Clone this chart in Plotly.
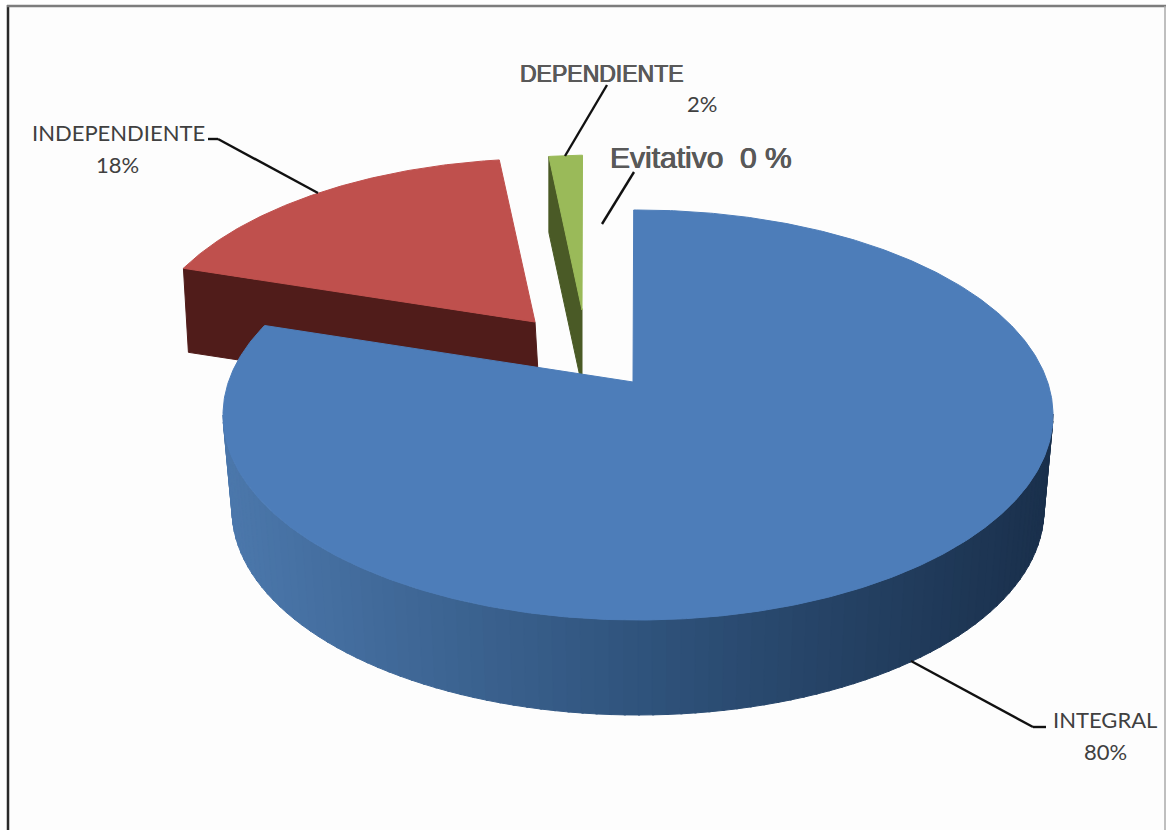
import numpy as np
import plotly.graph_objects as go

# Data
categories = ["INTEGRAL", "INDEPENDIENTE", "DEPENDIENTE", "Evitativo"]
values = [80, 18, 2, 0]
top_colors = ["#4d7db9", "#bf504d", "#9aba59", "#7f7f7f"]
side_colors = ["#34588a", "#501c1a", "#4a5a26", "#555555"]

# Projection of the tilted pie (page pixels)
CX, CY, RX, RY = 638, 415, 415, 205
PINCH = 0.16
START = -0.7
APEX = (633, 382)
BASE_CY, BASE_RX, BASE_RY = 510, 406, 205
SLICE_APEX = {0: APEX, 1: (535, 322), 2: (582, 310)}
SLICE_SCALE = {0: (1.0, 1.0, 0.0), 1: (0.96, 0.95, -0.036), 2: (0.76, 0.90, 0.0)}
SLICE_DEPTH = {1: (5, 84), 2: (0, 76)}


def rim(theta_deg):
    t = np.radians(np.asarray(theta_deg, dtype=float) + START)
    x, y = np.sin(t), np.cos(t)
    d = 1 + PINCH * y
    return (CX + RX * x * np.sqrt(1 - PINCH ** 2) / d,
            CY - RY * (y + PINCH) / d)


def wedge(i, a0, a1):
    th = np.linspace(a0, a1, max(int((a1 - a0) * 2), 2) + 1)
    rx, ry = rim(th)
    ax, ay = SLICE_APEX[i]
    sx, sy, shear = SLICE_SCALE[i]
    dy = ry - APEX[1]
    return ax + sx * (rx - APEX[0]) + shear * dy, ay + sy * dy


def poly(fig, xs, ys, color):
    fig.add_trace(go.Scatter(
        x=list(xs), y=list(ys), mode="lines", fill="toself", fillcolor=color,
        line=dict(color=color, width=1), hoverinfo="skip", showlegend=False))


fig = go.Figure()

shares = np.array(values, dtype=float) / sum(values) * 360
ends = np.cumsum(shares)
starts = ends - shares

# Exploded back slices: side face first, then top face
for i in (1, 2):
    ax, ay = SLICE_APEX[i]
    dx, dy = SLICE_DEPTH[i]
    wx, wy = wedge(i, starts[i], ends[i])
    tipx, tipy = wx[0], wy[0]
    poly(fig, [tipx, tipx + dx, ax + dx, ax, tipx],
         [tipy, tipy + dy, ay + dy, ay, tipy], side_colors[i])
    poly(fig, [ax, *wx, ax], [ay, *wy, ay], top_colors[i])

# Main slice: shaded rim in vertical strips, then its top face
STOPS_X = [232, 640, 1045]
STOPS_RGB = np.array([[76, 120, 172], [48, 84, 125], [26, 48, 76]])
phi = np.linspace(np.pi, 2 * np.pi, 91)
for p0, p1 in zip(phi[:-1], phi[1:]):
    seg = np.array([p0, p1 + 0.005])
    tx = CX + RX * np.cos(seg)
    ty = CY - RY * np.sin(seg)
    bx = CX + BASE_RX * np.cos(seg)
    by = BASE_CY - BASE_RY * np.sin(seg)
    rgb = [np.interp(bx.mean(), STOPS_X, STOPS_RGB[:, k]) for k in range(3)]
    col = "rgb(%d,%d,%d)" % tuple(rgb)
    poly(fig, [tx[0], tx[1], bx[1], bx[0], tx[0]],
         [ty[0], ty[1], by[1], by[0], ty[0]], col)

wx, wy = wedge(0, starts[0], ends[0])
poly(fig, [APEX[0], *wx, APEX[0]], [APEX[1], *wy, APEX[1]], top_colors[0])

# Labels
LABEL = "#404040"
HEAVY = "0.5px 0 0 #595959, -0.5px 0 0 #595959"
notes = [
    (118, 132, categories[1], "Lato", 22, LABEL, "none"),
    (117, 164, f"{values[1]}%", "Lato", 22, LABEL, "none"),
    (1105, 719, categories[0], "Lato", 22, LABEL, "none"),
    (1105, 751, f"{values[0]}%", "Lato", 22, LABEL, "none"),
    (602, 74, categories[2], "Liberation Sans", 23, "#595959", HEAVY),
    (702, 103, f"{values[2]}%", "Lato", 22, LABEL, "none"),
    (701, 157, f"{categories[3]}\u00a0\u00a0{values[3]}\u00a0%", "Liberation Sans", 30, "#595959", HEAVY),
]
for x, y, t, fam, size, col, shadow in notes:
    fig.add_annotation(x=x, y=y, text=t, showarrow=False, xanchor="center", yanchor="middle",
                       font=dict(family=fam, size=size, color=col, shadow=shadow))

# Leader lines and picture frame
leaders = [
    [(208, 139), (218, 139), (318, 193)],
    [(607, 85), (565, 156)],
    [(634, 172), (602, 224)],
    [(911, 661), (1033, 727), (1046, 727)],
]
shapes = [
    dict(type="rect", x0=8, x1=1165, y0=6, y1=830, fillcolor="#fdfdfd",
         line=dict(width=0), layer="below"),
    dict(type="line", x0=8, x1=8, y0=5, y1=830, line=dict(color="#2a2a2a", width=2.5), layer="below"),
    dict(type="line", x0=7, x1=1166, y0=6, y1=6, line=dict(color="#7d7d7d", width=2.5), layer="below"),
    dict(type="line", x0=1165, x1=1165, y0=6, y1=830, line=dict(color="#aaaaaa", width=1.5), layer="below"),
]
for pts in leaders:
    for (x0, y0), (x1, y1) in zip(pts[:-1], pts[1:]):
        shapes.append(dict(type="line", x0=x0, y0=y0, x1=x1, y1=y1,
                           line=dict(color="#111111", width=2.4)))

fig.update_layout(
    width=1166, height=830, margin=dict(l=0, r=0, t=0, b=0),
    paper_bgcolor="white", plot_bgcolor="rgba(0,0,0,0)", showlegend=False,
    xaxis=dict(range=[0, 1166], visible=False, fixedrange=True),
    yaxis=dict(range=[830, 0], visible=False, fixedrange=True),
    shapes=shapes,
)
fig.write_html("out.html", config={"displayModeBar": False},
               post_script="document.body.style.margin='0';document.body.style.overflow='hidden';")
